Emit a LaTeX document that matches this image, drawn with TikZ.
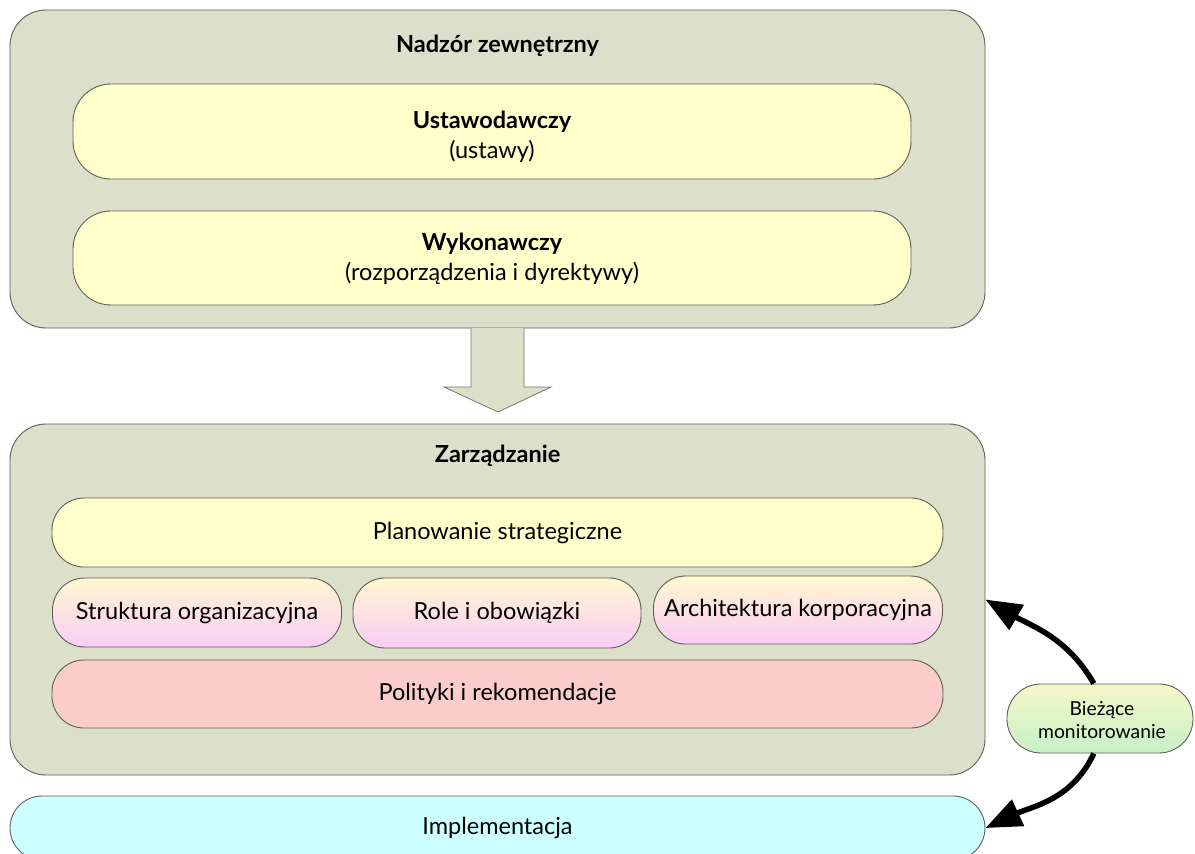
\documentclass[tikz,border=0pt]{standalone}
\usepackage{fontspec}
\setmainfont{Lato}
\usetikzlibrary{arrows.meta}
\definecolor{panel}{RGB}{220,223,201}
\definecolor{edge}{RGB}{95,95,85}
\definecolor{paleyellow}{RGB}{255,255,204}
\definecolor{palepink}{RGB}{250,204,204}
\definecolor{palecyan}{RGB}{204,255,255}
\definecolor{gradtop}{RGB}{255,248,208}
\definecolor{gradbot}{RGB}{250,205,245}
\definecolor{montop}{RGB}{245,248,200}
\definecolor{monbot}{RGB}{200,240,200}
\tikzset{
  every node/.style={font=\fontsize{23.5}{30}\selectfont},
  panelbox/.style={draw=edge, line width=0.9pt, fill=panel, rounded corners=36pt,
    minimum width=975pt, inner sep=0pt},
  pill/.style={draw=edge, line width=0.9pt, rounded corners=32pt, inner sep=0pt, align=center},
  bigpill/.style={pill, rounded corners=38pt, fill=paleyellow, minimum width=838pt},
  midpill/.style={pill, top color=gradtop, bottom color=gradbot, minimum width=289pt, minimum height=69pt},
  title/.style={font=\bfseries\fontsize{23.5}{28}\selectfont},
  label/.style={align=center, inner sep=0pt},
  loop/.style={line width=5.5pt, -{Triangle[length=36pt,width=28pt]}},
}
\begin{document}
\begin{tikzpicture}[x=1pt,y=1pt]
  \clip (0,0) rectangle (1195,-854);
  \fill[white] (0,0) rectangle (1195,-854);

  % external oversight
  \node[panelbox, minimum height=318pt] (ext) at (497.5,-169) {};
  \node[title] (extt) at (497.5,-46) {Nadzór zewnętrzny};
  \node[bigpill, minimum height=95pt] (leg) at (492,-131.5) {};
  \node[label] (legt) at (492,-137) {\textbf{Ustawodawczy}\\(ustawy)};
  \node[bigpill, minimum height=94pt] (exe) at (492,-258) {};
  \node[label] (exet) at (492,-258.5) {\textbf{Wykonawczy}\\(rozporządzenia i dyrektywy)};

  % downward block arrow
  \draw[draw={rgb,255:red,120;green,120;blue,110}, line width=0.8pt, fill=panel]
    (471,-328) -- (471,-387) -- (444,-387) -- (498,-412) -- (551,-387)
    -- (524,-387) -- (524,-328);

  % management
  \node[panelbox, minimum height=351pt] (gov) at (497.5,-599.5) {};
  \node[title] (govt) at (497.5,-456) {Zarządzanie};
  \node[pill, fill=paleyellow, minimum width=891pt, minimum height=69pt] (plan)
    at (497.5,-532.5) {Planowanie strategiczne};
  \node[midpill] (str) at (197,-612.5) {Struktura organizacyjna};
  \node[midpill, minimum width=288pt, minimum height=70pt] (role) at (497,-613) {Role i obowiązki};
  \node[midpill, minimum height=68pt] (arch) at (798,-610) {Architektura korporacyjna};
  \node[pill, fill=palepink, minimum width=891pt, minimum height=68pt] (pol)
    at (497.5,-694) {Polityki i rekomendacje};

  % implementation
  \node[pill, fill=palecyan, rounded corners=32pt, minimum width=975pt, minimum height=64pt]
    (impl) at (497.5,-828) {Implementacja};

  % monitoring loop
  \node[pill, top color=montop, bottom color=monbot, rounded corners=34pt,
    minimum width=186pt, minimum height=69pt] (mon) at (1100,-718.5) {};
  \node[label, font=\fontsize{19.3}{23}\selectfont] (mont) at (1102,-720)
    {Bieżące\\monitorowanie};
  \draw[loop] (mon.100) to[out=120,in=-30] (gov.east);
  \draw[loop] (mon.-100) to[out=-115,in=25] (impl.east);
\end{tikzpicture}
\end{document}
